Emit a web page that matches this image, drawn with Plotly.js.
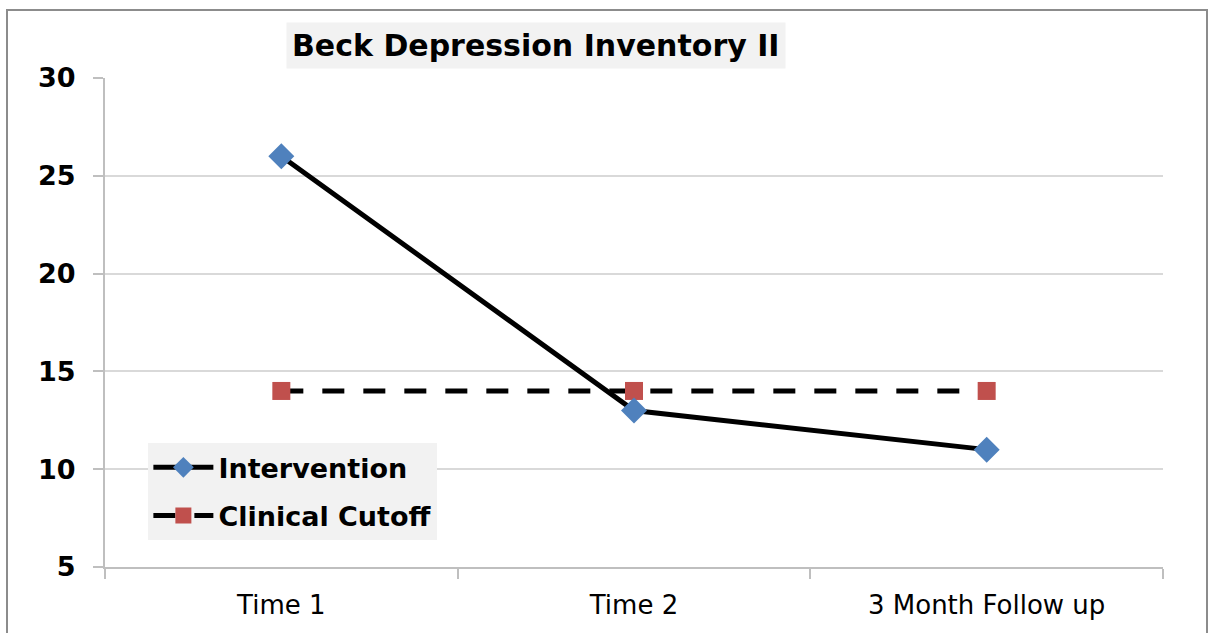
<!DOCTYPE html>
<html>
<head>
<meta charset="utf-8">
<script src="https://cdn.plot.ly/plotly-3.0.1.min.js"></script>
<style>html,body{margin:0;padding:0;background:#fff;} #chart{width:1209px;height:633px;}</style>
</head>
<body>
<div id="chart"></div>
<script>
var categories = ["Time 1", "Time 2", "3 Month Follow up"];
var interventionValues = [26, 13, 11];
var cutoffValues = [14, 14, 14];
var yTickValues = [5, 10, 15, 20, 25, 30];
var chartTitle = "Beck Depression Inventory II";

var font = "DejaVu Sans, Verdana, sans-serif";

var traces = [
  {
    x: categories, y: cutoffValues, name: "Clinical Cutoff", type: "scatter", mode: "lines+markers",
    line: {color: "#000000", width: 5, dash: "22px,19px"},
    marker: {symbol: "square", size: 18, color: "#c0504d"},
    legendrank: 2, legendgroup: "b"
  },
  {
    x: categories, y: interventionValues, name: "Intervention", type: "scatter", mode: "lines+markers",
    line: {color: "#000000", width: 5},
    marker: {symbol: "diamond", size: 20, color: "#4f81bd"},
    legendrank: 1, legendgroup: "a"
  }
];

var layout = {
  width: 1209, height: 633,
  margin: {l: 105, r: 46, t: 78, b: 66},
  paper_bgcolor: "#ffffff", plot_bgcolor: "#ffffff",
  font: {family: font, color: "#000000"},
  showlegend: true,
  legend: {
    x: 0.041, y: 0.253, xanchor: "left", yanchor: "top",
    bgcolor: "#f2f2f2", borderwidth: 0,
    font: {family: font, size: 27, color: "#000000", weight: "bold"},
    itemwidth: 60, traceorder: "grouped", tracegroupgap: 10
  },
  xaxis: {
    type: "category", range: [-0.5, 2.5],
    tickson: "boundaries", ticks: "outside", ticklen: 10, tickcolor: "#bfbfbf", tickwidth: 2,
    showline: true, linecolor: "#bfbfbf", linewidth: 2,
    showgrid: false, zeroline: false,
    tickfont: {family: font, size: 26, color: "#000000"},
    ticklabelstandoff: 14
  },
  yaxis: {
    range: [5, 30], tickvals: yTickValues, ticktext: yTickValues.map(String),
    ticks: "outside", ticklen: 10, tickcolor: "#bfbfbf", tickwidth: 2,
    showline: true, linecolor: "#bfbfbf", linewidth: 2,
    showgrid: true, gridcolor: "#d9d9d9", gridwidth: 2, zeroline: false,
    tickfont: {family: font, size: 27, color: "#000000", weight: "bold"},
    ticklabelstandoff: 12
  },
  annotations: [
    {
      text: chartTitle, xref: "paper", yref: "paper",
      x: (535.5 - 105) / 1058, y: (567 - 45.5) / 489, xanchor: "center", yanchor: "middle",
      showarrow: false, bgcolor: "#f2f2f2", borderpad: 5,
      font: {family: font, size: 30, color: "#000000", weight: "bold"}
    }
  ],
  shapes: [
    {
      type: "rect", xref: "paper", yref: "paper",
      x0: (7 - 105) / 1058, x1: (1207 - 105) / 1058,
      y0: (567 - 645) / 489, y1: (567 - 10) / 489,
      line: {color: "#8c8c8c", width: 2}, fillcolor: "rgba(0,0,0,0)", layer: "below"
    }
  ]
};

Plotly.newPlot("chart", traces, layout, {displayModeBar: false, staticPlot: true});
</script>
</body>
</html>
